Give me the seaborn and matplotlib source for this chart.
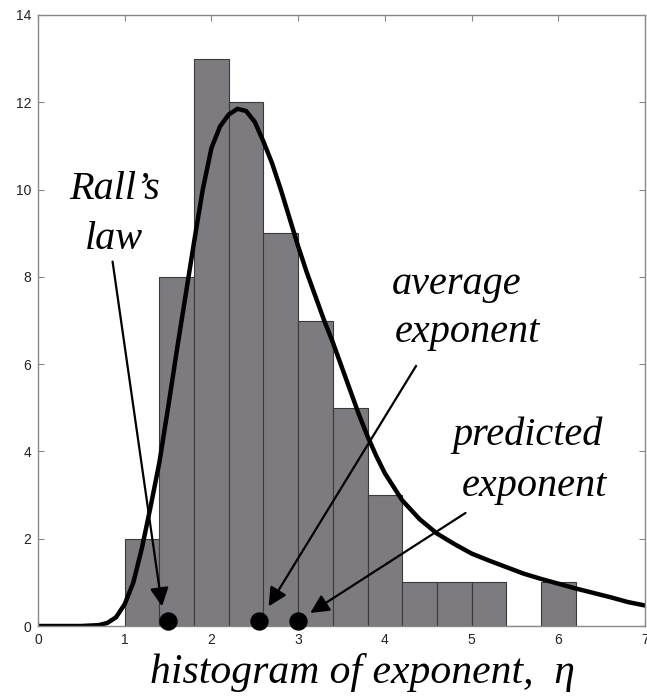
import numpy as np
import pandas as pd
import matplotlib
matplotlib.use('Agg')
import matplotlib.pyplot as plt
import seaborn as sns

# Histogram data (bin centres and counts, bin width 0.4)
bin_centers = [1.2, 1.6, 2.0, 2.4, 2.8, 3.2, 3.6, 4.0, 4.4, 4.8, 5.2, 5.6, 6.0]
bin_counts = [2, 8, 13, 12, 9, 7, 5, 3, 1, 1, 1, 0, 1]
bin_edges = [1.0, 1.4, 1.8, 2.2, 2.6, 3.0, 3.4, 3.8, 4.2, 4.6, 5.0, 5.4, 5.8, 6.2]

# Fitted curve
curve_x = [0.0, 0.5, 0.7, 0.8, 0.9, 1.0, 1.1, 1.2, 1.3, 1.4, 1.5, 1.6, 1.7, 1.8, 1.9,
           2.0, 2.1, 2.2, 2.3, 2.4, 2.5, 2.6, 2.7, 2.8, 2.9, 3.0, 3.1, 3.2, 3.3, 3.4,
           3.5, 3.6, 3.7, 3.8, 3.9, 4.0, 4.2, 4.4, 4.6, 4.8, 5.0, 5.2, 5.4, 5.6, 5.8,
           6.0, 6.2, 6.4, 6.6, 6.8, 7.0]
curve_y = [0.0, 0.0, 0.02, 0.07, 0.2, 0.5, 1.0, 1.8, 2.75, 3.75, 5.0, 6.3, 7.55, 8.8, 10.0,
           10.95, 11.45, 11.72, 11.85, 11.8, 11.55, 11.1, 10.6, 10.0, 9.35, 8.7, 8.1, 7.55, 7.0, 6.5,
           5.95, 5.4, 4.85, 4.35, 3.9, 3.5, 2.88, 2.45, 2.12, 1.88, 1.66, 1.5, 1.35, 1.2, 1.08,
           0.97, 0.86, 0.76, 0.66, 0.55, 0.47]

# Marked exponents
marker_names = ["Rall's law", "average exponent", "predicted exponent"]
marker_x = [1.5, 2.55, 3.0]

x_ticks = [0, 1, 2, 3, 4, 5, 6, 7]
y_ticks = [0, 2, 4, 6, 8, 10, 12, 14]

sns.set_style('white')
plt.rcParams['text.color'] = 'black'
plt.rcParams['xtick.color'] = '#888888'
plt.rcParams['ytick.color'] = '#888888'
plt.rcParams['xtick.labelcolor'] = '#222222'
plt.rcParams['ytick.labelcolor'] = '#222222'
plt.rcParams['font.family'] = ['Liberation Sans', 'DejaVu Sans']
serif = ['Liberation Serif', 'DejaVu Serif']

fig = plt.figure(figsize=(6.47, 6.98), dpi=100)
ax = fig.add_axes([38 / 647, 72 / 698, 607 / 647, 611 / 698])

sns.histplot(x=bin_centers, weights=bin_counts, bins=bin_edges, ax=ax,
             color='#7d7a80', alpha=1.0, edgecolor='#3a3a3a', linewidth=0.8)
sns.lineplot(x=curve_x, y=curve_y, ax=ax, color='black', linewidth=3.2)
sns.scatterplot(x=marker_x, y=[0.12] * len(marker_x), ax=ax, color='black', s=150,
                edgecolor='black', zorder=5, clip_on=False)

ax.set_xlim(0, 7)
ax.set_ylim(0, 14)
ax.set_xticks(x_ticks)
ax.set_yticks(y_ticks)
ax.set_xlabel('')
ax.set_ylabel('')
ax.tick_params(direction='in', length=4, labelsize=10, pad=5,
               top=True, right=True, bottom=True, left=True)
for s in ax.spines.values():
    s.set_color('#888888')
    s.set_linewidth(1.0)

# annotations
arrow = dict(arrowstyle='-|>', color='black', lw=1.6, mutation_scale=28, shrinkA=0, shrinkB=0)
ax.annotate('', xy=(1.43, 0.45), xytext=(0.86, 8.35), arrowprops=arrow)
ax.annotate('', xy=(2.66, 0.45), xytext=(4.36, 5.96), arrowprops=arrow)
ax.annotate('', xy=(3.14, 0.3), xytext=(4.93, 2.59), arrowprops=arrow)

txt = dict(family=serif, style='italic', fontsize=29, ha='center', va='center', color='black')
ax.text(0.88, 10.0, "Rall\u2019s", **txt)
ax.text(0.88, 8.85, 'law', **txt)
ax.text(4.83, 7.82, 'average', **txt)
ax.text(4.95, 6.72, 'exponent', **txt)
ax.text(5.64, 4.38, 'predicted', **txt)
ax.text(5.72, 3.19, 'exponent', **txt)

fig.text(362 / 647, 1 - 672 / 698, 'histogram of exponent,  \u03b7', ha='center', va='center',
         family=serif, style='italic', fontsize=30, color='black')

fig.savefig('out.png', dpi=100)
